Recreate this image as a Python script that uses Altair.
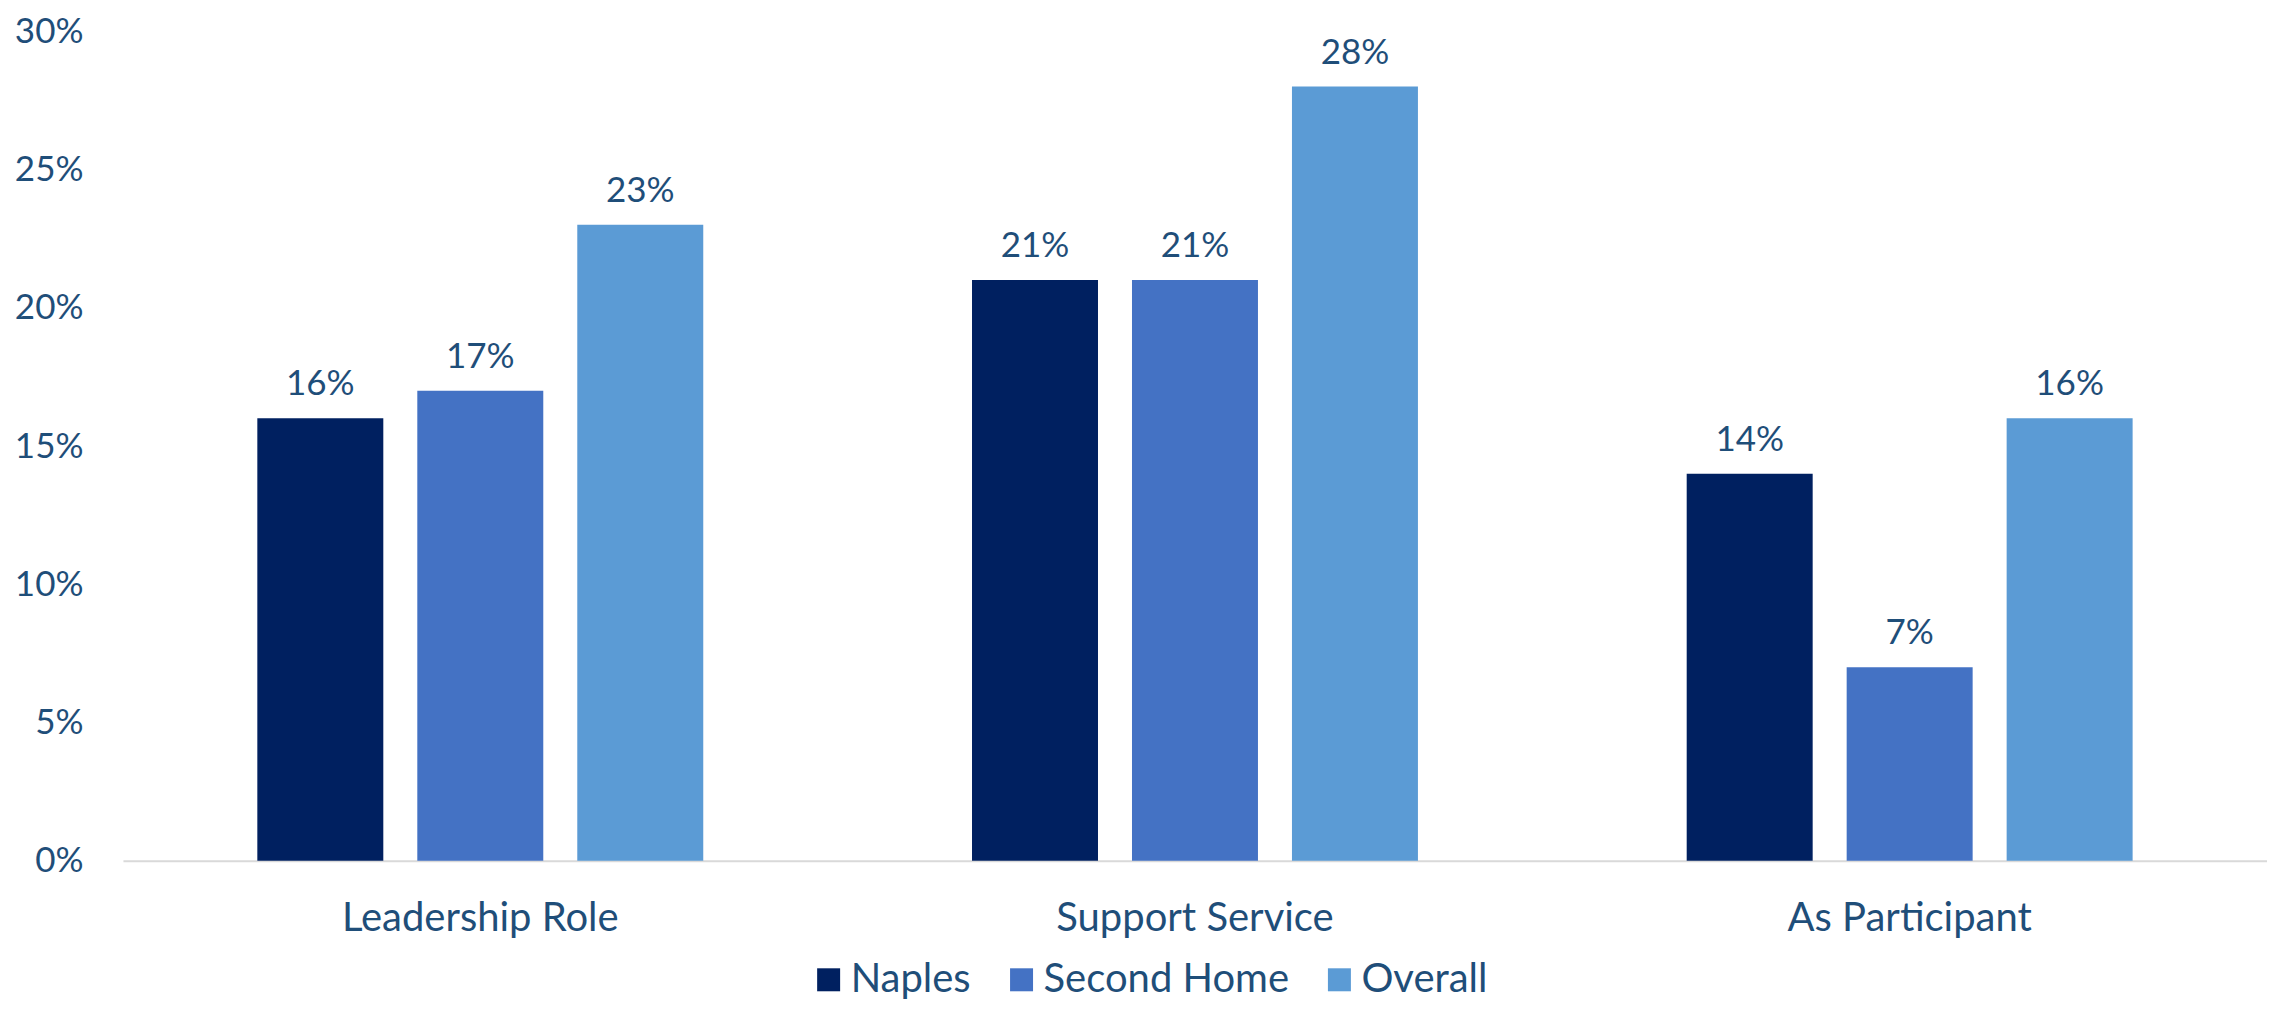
import altair as alt
import pandas as pd

categories = ["Leadership Role", "Support Service", "As Participant"]
series = ["Naples", "Second Home", "Overall"]
naples = [0.16, 0.21, 0.14]
second_home = [0.17, 0.21, 0.07]
overall = [0.23, 0.28, 0.16]
colors = ["#002060", "#4472C4", "#5B9BD5"]
y_ticks = [0, 0.05, 0.10, 0.15, 0.20, 0.25, 0.30]

rows = []
for s, vals in zip(series, [naples, second_home, overall]):
    for c, v in zip(categories, vals):
        rows.append({"category": c, "series": s, "value": v})
df = pd.DataFrame(rows)

FONT = "Lato"
TXT = "#1F4E79"

base = alt.Chart(df).encode(
    x=alt.X("category:N", sort=categories, title=None,
            scale=alt.Scale(paddingInner=0, paddingOuter=0),
            axis=alt.Axis(labelAngle=0, ticks=False, domain=True, domainColor="#D9D9D9",
                          domainWidth=2, labelPadding=38, labelFontSize=40,
                          labelFont=FONT, labelColor=TXT, labelLimit=0)),
    xOffset=alt.XOffset("series:N", sort=series,
                        scale=alt.Scale(paddingInner=0.2125, paddingOuter=0.84)),
    y=alt.Y("value:Q", title=None,
            scale=alt.Scale(domain=[0, 0.30], nice=False),
            axis=alt.Axis(values=y_ticks, format=".0%", grid=False, ticks=False, domain=False,
                          labelPadding=40, labelFontSize=35, labelFont=FONT, labelColor=TXT,
                          labelLimit=0)),
)

bars = base.mark_bar().encode(
    color=alt.Color("series:N", sort=series,
                    scale=alt.Scale(domain=series, range=colors),
                    legend=alt.Legend(title=None, orient="none", direction="horizontal",
                                      legendX=686, legendY=929,
                                      symbolType="square", symbolSize=529,
                                      symbolStrokeWidth=0, labelFontSize=40,
                                      labelFont=FONT, labelColor=TXT, columnPadding=30,
                                      labelOffset=2, labelLimit=0))
)

labels = base.mark_text(baseline="alphabetic", dy=-23, fontSize=35, font=FONT, color=TXT).encode(
    text=alt.Text("value:Q", format=".0%")
)

chart = alt.layer(bars, labels).properties(
    width=2145, height=830,
    autosize=alt.AutoSizeParams(type="none"),
    padding={"left": 115, "top": 23, "right": 0, "bottom": 141},
).configure_view(stroke=None)

chart.save("out.html", embed_options={"renderer": "svg", "actions": False})
